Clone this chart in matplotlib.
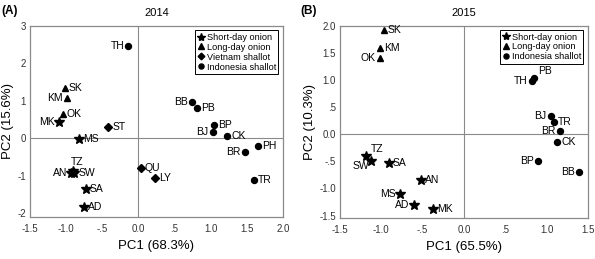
import numpy as np
import matplotlib.pyplot as plt

plt.rcParams.update({"font.family": ["Liberation Sans", "DejaVu Sans"], "font.size": 7})

# ---- 2014 data
a_names = ["TH", "SK", "KM", "OK", "MK", "ST", "MS", "TZ", "AN", "SW", "SA", "AD", "QU", "LY",
           "BB", "PB", "BP", "BJ", "CK", "PH", "BR", "TR"]
a_group = ["ind", "long", "long", "long", "short", "viet", "short", "short", "short", "short", "short", "short", "viet", "viet",
           "ind", "ind", "ind", "ind", "ind", "ind", "ind", "ind"]
a_pc1 = [-0.14, -1.02, -0.99, -1.05, -1.10, -0.42, -0.82, -0.91, -0.93, -0.89, -0.73, -0.75, 0.03, 0.23,
         0.74, 0.81, 1.05, 1.03, 1.23, 1.66, 1.47, 1.60]
a_pc2 = [2.47, 1.34, 1.08, 0.66, 0.44, 0.31, -0.03, -0.86, -0.93, -0.92, -1.35, -1.84, -0.79, -1.06,
         0.97, 0.80, 0.35, 0.16, 0.05, -0.21, -0.36, -1.11]
a_side = ["l", "r", "l", "r", "l", "r", "r", "u", "l", "r", "r", "r", "r", "r",
          "l", "r", "r", "l", "r", "r", "l", "r"]

# ---- 2015 data
b_names = ["SK", "KM", "OK", "TH", "PB", "BJ", "TR", "BR", "CK", "BP", "BB",
           "TZ", "SW", "SA", "AN", "MS", "AD", "MK"]
b_group = ["long", "long", "long", "ind", "ind", "ind", "ind", "ind", "ind", "ind", "ind",
           "short", "short", "short", "short", "short", "short", "short"]
b_pc1 = [-0.97, -1.02, -1.02, 0.82, 0.85, 1.05, 1.09, 1.16, 1.13, 0.90, 1.39,
         -1.18, -1.13, -0.91, -0.52, -0.77, -0.61, -0.38]
b_pc2 = [1.92, 1.59, 1.41, 0.98, 1.04, 0.33, 0.23, 0.05, -0.14, -0.50, -0.70,
         -0.40, -0.49, -0.53, -0.84, -1.10, -1.30, -1.38]
b_side = ["r", "r", "l", "l", "ur", "l", "r", "l", "r", "l", "l",
          "ur", "ld", "r", "r", "l", "l", "r"]

groups = {"short": ("Short-day onion", "*", 7), "long": ("Long-day onion", "^", 4.8),
          "viet": ("Vietnam shallot", "D", 4), "ind": ("Indonesia shallot", "o", 4.3)}
spine_col = "#8a8a8a"

def panel(ax, names, grp, x, y, side, order):
    ax.axhline(0, color=spine_col, lw=0.8, zorder=0)
    ax.axvline(0, color=spine_col, lw=0.8, zorder=0)
    for g in order:
        lab, m, ms = groups[g]
        idx = [i for i, v in enumerate(grp) if v == g]
        ax.plot([x[i] for i in idx], [y[i] for i in idx], ls="none", marker=m, ms=ms, color="black", label=lab)
    for n, xi, yi, s in zip(names, x, y, side):
        off = {"r": (3, 0, "left", "center"), "l": (-3, 0, "right", "center"),
               "u": (3, 6, "center", "center"), "ur": (3, 5, "left", "center"),
               "ld": (-1, -4, "right", "center")}[s]
        ax.annotate(n, (xi, yi), xytext=off[:2], textcoords="offset points",
                    ha=off[2], va=off[3], fontsize=7.5)
    for sp in ax.spines.values():
        sp.set_color(spine_col); sp.set_linewidth(0.9)
    ax.tick_params(length=0, labelsize=7, colors="#333333")
    ax.tick_params(axis="x", pad=5)
    ax.tick_params(axis="y", pad=3)
    leg = ax.legend(loc="upper right", frameon=True, fancybox=False, edgecolor="black", fontsize=6.6,
                    handlelength=0.7, handletextpad=0.3, borderpad=0.25, labelspacing=0.1,
                    borderaxespad=0.5, framealpha=1, markerscale=0.85)
    leg.get_frame().set_linewidth(0.7)

fig = plt.figure(figsize=(5.95, 2.59), dpi=100)
ax1 = fig.add_axes([0.0504, 0.162, 0.4252, 0.738])
ax2 = fig.add_axes([0.5714, 0.157, 0.4168, 0.744])

panel(ax1, a_names, a_group, a_pc1, a_pc2, a_side, ["short", "long", "viet", "ind"])
ax1.set_xlim(-1.5, 2.0); ax1.set_ylim(-2.1, 3)
ax1.set_xticks([-1.5, -1.0, -0.5, 0.0, 0.5, 1.0, 1.5, 2.0])
ax1.set_xticklabels(["-1.5", "-1.0", "-.5", "0.0", ".5", "1.0", "1.5", "2.0"])
ax1.set_yticks([-2, -1, 0, 1, 2, 3])
ax1.set_yticklabels(["-2", "-1", "0", "1", "2", "3"])
ax1.set_xlabel("PC1 (68.3%)", fontsize=9.5, labelpad=4)
ax1.set_ylabel("PC2 (15.6%)", fontsize=9.5, labelpad=2)
ax1.set_title("2014", fontsize=8, pad=7)
fig.text(0.003, 0.958, "(A)", fontsize=8.5, fontweight="bold", va="center")

panel(ax2, b_names, b_group, b_pc1, b_pc2, b_side, ["short", "long", "ind"])
ax2.set_xlim(-1.5, 1.5); ax2.set_ylim(-1.55, 2.0)
ax2.set_xticks([-1.5, -1.0, -0.5, 0.0, 0.5, 1.0, 1.5])
ax2.set_xticklabels(["-1.5", "-1.0", "-.5", "0.0", ".5", "1.0", "1.5"])
ax2.set_yticks([-1.5, -1.0, -0.5, 0.0, 0.5, 1.0, 1.5, 2.0])
ax2.set_yticklabels(["-1.5", "-1.0", "-.5", "0.0", ".5", "1.0", "1.5", "2.0"])
ax2.set_xlabel("PC1 (65.5%)", fontsize=9.5, labelpad=4)
ax2.set_ylabel("PC2 (10.3%)", fontsize=9.5, labelpad=2)
ax2.set_title("2015", fontsize=8, pad=7)
fig.text(0.505, 0.958, "(B)", fontsize=8.5, fontweight="bold", va="center")

fig.savefig("out.png", dpi=100)
